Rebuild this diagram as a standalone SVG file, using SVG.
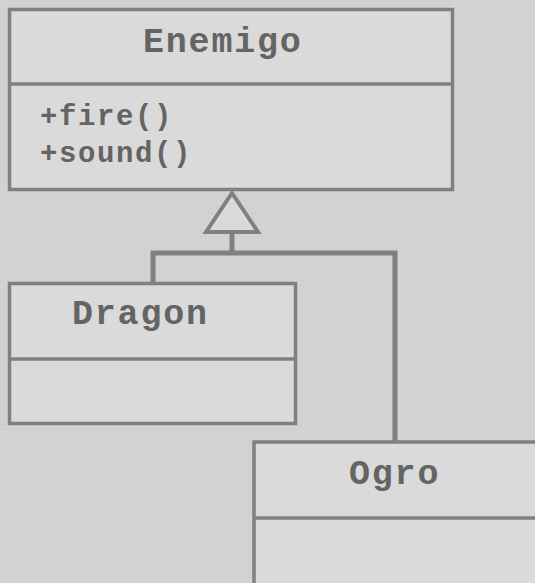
<svg xmlns="http://www.w3.org/2000/svg" width="535" height="583" viewBox="0 0 535 583">
  <style>
    .box { fill: #dadada; stroke: #808080; stroke-width: 3.5; }
    .div { stroke: #808080; stroke-width: 3.5; }
    .title { font-family: "Liberation Mono", "Courier New", monospace; font-weight: bold; font-size: 35px; letter-spacing: 1.8px; fill: #646464; }
    .member { font-family: "Liberation Mono", "Courier New", monospace; font-weight: bold; font-size: 29px; letter-spacing: 1.6px; fill: #646464; }
    .link { fill: none; stroke: #808080; stroke-width: 5; stroke-linejoin: miter; }
    .head { fill: #dadada; stroke: #808080; stroke-width: 4; stroke-linejoin: miter; }
  </style>
  <defs>
    <pattern id="grain" width="4" height="4" patternUnits="userSpaceOnUse">
      <rect width="4" height="4" fill="#d3d3d3"/>
      <rect width="2" height="2" fill="#cfcfcf"/>
    </pattern>
  </defs>

  <rect width="535" height="583" fill="url(#grain)"/>

  <!-- generalization connectors -->
  <g id="connectors">
    <polyline class="link" points="153,284 153,253 395,253 395,443"/>
    <line class="link" x1="232" y1="231" x2="232" y2="253"/>
    <polygon class="head" points="232,193 258,232 206,232"/>
  </g>

  <!-- base class -->
  <g id="enemigo">
    <rect class="box" x="9.5" y="9.5" width="443" height="180"/>
    <line class="div" x1="9.5" y1="84" x2="452.5" y2="84"/>
    <text class="title" x="143" y="52">Enemigo</text>
    <text class="member" x="40" y="125">+fire()</text>
    <text class="member" x="40" y="162">+sound()</text>
  </g>

  <!-- subclasses -->
  <g id="dragon">
    <rect class="box" x="9.5" y="283.5" width="286" height="140"/>
    <line class="div" x1="9.5" y1="359" x2="295.5" y2="359"/>
    <text class="title" x="72" y="324">Dragon</text>
  </g>

  <g id="ogro">
    <rect class="box" x="254" y="442" width="300" height="160"/>
    <line class="div" x1="254" y1="518" x2="554" y2="518"/>
    <text class="title" x="349" y="484">Ogro</text>
  </g>
</svg>
